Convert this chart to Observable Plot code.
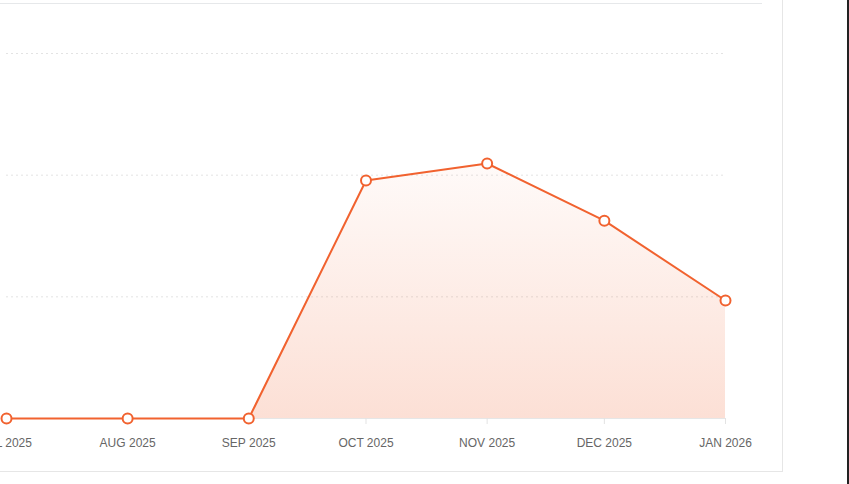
<!DOCTYPE html>
<html>
<head>
<meta charset="utf-8">
<script src="https://cdn.jsdelivr.net/npm/d3@7"></script>
<script src="https://cdn.jsdelivr.net/npm/@observablehq/plot@0.6"></script>
<style>
  html, body { margin: 0; padding: 0; background: #fff; }
  body { width: 849px; height: 484px; overflow: hidden; position: relative; font-family: "Liberation Sans", Arial, sans-serif; }
  #card { position: absolute; left: -1px; top: -1px; width: 784px; height: 473px; border-right: 1px solid #e6e6e6; border-bottom: 1px solid #e6e6e6; box-sizing: border-box; overflow: hidden; }
  #divider { position: absolute; left: 0; top: 4px; width: 763px; height: 1px; background: #e6e8ea; }
  #chart { position: absolute; left: -59px; top: 2px; width: 900px; }
  #chart svg { max-width: none !important; }
  #edge { position: absolute; left: 847px; top: 0; width: 2px; height: 484px; background: #222; }
</style>
</head>
<body>
<div id="card"><div id="divider"></div><div id="chart"></div></div>
<div id="edge"></div>
<script>
const months = ["2025-07-01", "2025-08-01", "2025-09-01", "2025-10-01", "2025-11-01", "2025-12-01", "2026-01-01"];
const values = [0, 0, 0, 97.8, 104.8, 81.3, 48.5];
const gridTicks = [50, 100, 150];

const data = months.map((m, i) => ({date: new Date(m + "T00:00:00Z"), value: values[i]}));
const orange = "#f1622f";

const gradientDefs = () => {
  const defs = d3.create("svg:defs");
  const g = defs.append("linearGradient").attr("id", "areaGrad").attr("x1", 0).attr("y1", 0).attr("x2", 0).attr("y2", 1);
  g.append("stop").attr("offset", "0%").attr("stop-color", orange).attr("stop-opacity", 0.03);
  g.append("stop").attr("offset", "100%").attr("stop-color", orange).attr("stop-opacity", 0.2);
  return defs.node();
};

const chart = Plot.plot({
  width: 900,
  height: 480,
  marginLeft: 66,
  marginRight: 115,
  marginTop: 52,
  marginBottom: 63,
  style: {background: "transparent", fontFamily: "'Liberation Sans', Arial, sans-serif", overflow: "visible", maxWidth: "none"},
  x: {type: "utc", domain: [data[0].date, data[data.length - 1].date]},
  y: {domain: [0, 150], axis: null},
  marks: [
    gradientDefs,
    Plot.ruleY(gridTicks, {stroke: "#e3e3e3", strokeDasharray: "2,3", strokeWidth: 1}),
    Plot.areaY(data, {x: "date", y: "value", fill: "url(#areaGrad)"}),
    Plot.ruleY([0], {stroke: "#e6e6e6", strokeWidth: 1}),
    Plot.axisX({
      ticks: d3.utcMonth.every(1),
      tickFormat: d => d3.utcFormat("%b %Y")(d).toUpperCase(),
      tickSize: 6,
      tickPadding: 14,
      stroke: "#e3e3e3",
      fill: "#666",
      fontSize: 12
    }),
    Plot.line(data, {x: "date", y: "value", stroke: orange, strokeWidth: 2}),
    Plot.dot(data, {x: "date", y: "value", r: 5, fill: "white", stroke: orange, strokeWidth: 2})
  ]
});
document.getElementById("chart").appendChild(chart);
</script>
</body>
</html>
